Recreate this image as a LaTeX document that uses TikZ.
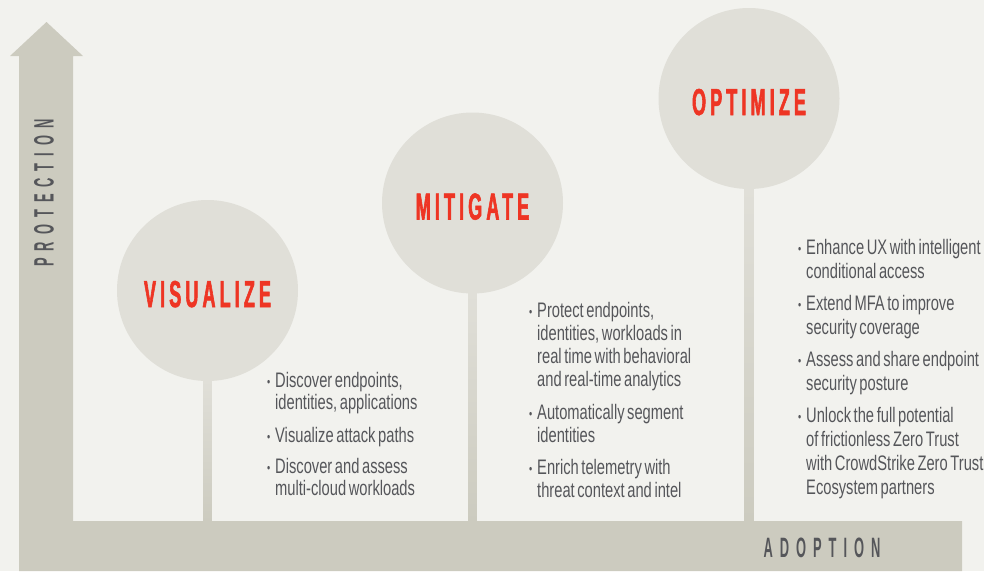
\documentclass[tikz,border=0pt]{standalone}
\usepackage{fontspec}
\usetikzlibrary{calc}
\setmainfont{Liberation Sans}
\newfontfamily\bodyfont{Liberation Sans}[FakeStretch=0.70]
\newfontfamily\headfont{Liberation Sans}[FakeStretch=0.48, LetterSpace=11, FakeBold=1.5]
\newfontfamily\axisfont{Liberation Sans}[FakeStretch=0.46, LetterSpace=25]
\definecolor{bgc}{HTML}{F2F2EE}
\definecolor{barc}{HTML}{CCCBBF}
\definecolor{circc}{HTML}{E0DFD8}
\definecolor{redc}{HTML}{EE3524}
\definecolor{txtc}{HTML}{55565A}
\newcommand{\bul}{\fontdimen2\font=2.6pt\relax\spaceskip=2.6pt plus 1pt\relax\makebox[8pt][l]{\raisebox{1pt}{\fontsize{13}{13}\selectfont •}}}
\tikzset{
  stage/.style={circle, fill=circc, minimum size=181pt, inner sep=0pt, text=redc,
    text height=33pt, text depth=0pt,
    font=\headfont\bfseries\fontsize{37.5}{40}\selectfont},
  stemshade/.style={top color=circc, bottom color=barc, draw=none},
  itemV/.style={anchor=base west, inner sep=0pt, text width=230pt, text=txtc,
    font=\bodyfont\fontsize{21}{22}\selectfont},
  itemM/.style={itemV, font=\bodyfont\fontsize{21}{23}\selectfont},
  itemO/.style={itemV, font=\bodyfont\fontsize{21}{24.3}\selectfont},
  axislabel/.style={inner sep=0pt, text=txtc, font=\axisfont\bfseries\fontsize{28}{30}\selectfont}
}
\begin{document}
\begin{tikzpicture}[x=1pt, y=-1pt]
\useasboundingbox (0,0) rectangle (984,571);
\fill[bgc] (0,0) rectangle (984,571);
% axes
\fill[barc] (19,571) -- (19,56) -- (10,56) -- (46.5,22) -- (83,56) -- (73,56)
  -- (73,521) -- (962,521) -- (962,571) -- cycle;
\coordinate (B) at (0,521);
\node[axislabel, rotate=90] (prot) at (44,193) {PROTECTION};
\node[axislabel] (adop) at (822,548) {ADOPTION};
% stages
\node[stage] (V) at (207.5,290.5) {VISUALIZE};
\node[stage] (M) at (472.5,203) {MITIGATE};
\node[stage] (O) at (749,98.5) {OPTIMIZE};
\foreach \s in {V,M,O}{
  \shade[stemshade] ($(\s.south)+(-4.4,-1)$) rectangle ($(\s.south |- B)+(4.4,0)$);
}
% texts
\node[itemV] (v1) at (267,387) {\hangindent=8pt\hangafter=1\noindent\bul Discover endpoints,\newline identities, applications\par};
\node[itemV] (v2) at (267,442) {\hangindent=8pt\hangafter=1\noindent\bul Visualize attack paths\par};
\node[itemV] (v3) at (267,473) {\hangindent=8pt\hangafter=1\noindent\bul Discover and assess\newline multi-cloud workloads\par};
\node[itemM] (m1) at (529,317) {\hangindent=8pt\hangafter=1\noindent\bul Protect endpoints,\newline identities, workloads in\newline real time with behavioral\newline and real-time analytics\par};
\node[itemM] (m2) at (529,419) {\hangindent=8pt\hangafter=1\noindent\bul Automatically segment\newline identities\par};
\node[itemM] (m3) at (529,474) {\hangindent=8pt\hangafter=1\noindent\bul Enrich telemetry with\newline threat context and intel\par};
\node[itemO] (o1) at (798,254) {\hangindent=8pt\hangafter=1\noindent\bul Enhance UX with intelligent\newline conditional access\par};
\node[itemO] (o2) at (798,310) {\hangindent=8pt\hangafter=1\noindent\bul Extend MFA to improve\newline security coverage\par};
\node[itemO] (o3) at (798,366) {\hangindent=8pt\hangafter=1\noindent\bul Assess and share endpoint\newline security posture\par};
\node[itemO] (o4) at (798,422) {\hangindent=8pt\hangafter=1\noindent\bul Unlock the full potential\newline of frictionless Zero Trust\newline with CrowdStrike Zero Trust\newline Ecosystem partners\par};
\end{tikzpicture}
\end{document}
